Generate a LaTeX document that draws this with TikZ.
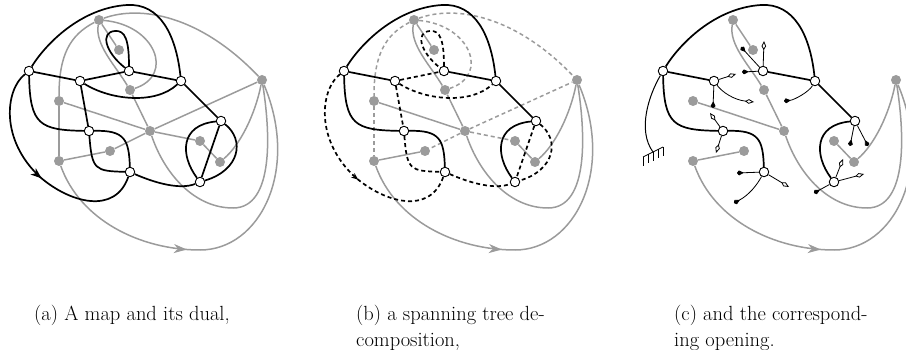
\documentclass[tikz,border=0pt]{standalone}
\usetikzlibrary{arrows.meta,decorations.markings}
\pgfdeclarelayer{background}
\pgfsetlayers{background,main}
\definecolor{dg}{RGB}{155,155,155}
\tikzset{
  pv/.style={circle,draw=black,fill=white,line width=0.9pt,minimum size=9.5pt,inner sep=0pt},
  dv/.style={circle,fill=dg,draw=none,minimum size=10pt,inner sep=0pt},
  pe/.style={line width=1.7pt,black},
  ge/.style={line width=1.5pt,dg},
  pdash/.style={pe,dash pattern=on 4pt off 3pt},
  gdash/.style={ge,dash pattern=on 4pt off 3pt},
  stub/.style={line width=0.8pt,black},
  bstub/.style={stub,-{Kite[length=7pt,width=5pt,inset=5pt,round]}},
  wstub/.style={stub,-{Kite[fill=white,length=9pt,width=4.6pt,inset=3.8pt]}},
  parrow/.style={postaction={decorate},decoration={markings,mark=at position 118pt with {\arrow{Stealth[length=11pt,width=8pt,inset=3pt]}}}},
  psarrow/.style={postaction={decorate},decoration={markings,mark=at position 120pt with {\arrow{Stealth[length=7pt,width=5.5pt,inset=2pt]}}}},
  garrow/.style={postaction={decorate},decoration={markings,mark=at position 160pt with {\arrow{Stealth[length=13pt,width=9pt,inset=4pt]}}}},
  capt/.style={font=\fontsize{20.5}{24}\selectfont,inner sep=0pt,anchor=base west},
}
\newcommand{\Verts}{%
  \node[pv] (A) at (29,71) {};
  \node[pv] (B) at (80,81) {};
  \node[pv] (C) at (129,71) {};
  \node[pv] (D) at (181,81) {};
  \node[pv] (E) at (221,121) {};
  \node[pv] (F) at (89,131) {};
  \node[pv] (G) at (130,172) {};
  \node[pv] (H) at (200,182) {};
  \node[dv] (d1) at (99,20) {};
  \node[dv] (d2) at (119,50) {};
  \node[dv] (d3) at (130,90) {};
  \node[dv] (d4) at (59,101) {};
  \node[dv] (d5) at (150,131) {};
  \node[dv] (d6) at (110,151) {};
  \node[dv] (d7) at (59,161) {};
  \node[dv] (d8) at (200,141) {};
  \node[dv] (d9) at (220,162) {};
  \node[dv] (d10) at (262,80) {};
}
% primal edges
\newcommand\EdAB[1]{\draw[#1] (A) -- (B);}
\newcommand\EdBC[1]{\draw[#1] (B) -- (C);}
\newcommand\EdCD[1]{\draw[#1] (C) -- (D);}
\newcommand\EdDE[1]{\draw[#1] (D) -- (E);}
\newcommand\EdBF[1]{\draw[#1] (B) -- (F);}
\newcommand\EdEHs[1]{\draw[#1] (E) -- (H);}
\newcommand\EdCC[1]{\draw[#1] (C) .. controls (129,40) and (125,30) .. (115,31) .. controls (100,32) and (105,52) .. (C);}
\newcommand\EdAD[1]{\draw[#1] (A) .. controls (45,45) and (80,8) .. (127,5) .. controls (160,3) and (176,35) .. (D);}
\newcommand\EdBD[1]{\draw[#1] (B) .. controls (110,100) and (155,105) .. (D);}
\newcommand\EdAF[1]{\draw[#1] (A) .. controls (30,125) and (40,130) .. (F);}
\newcommand\EdFGr[1]{\draw[#1] (F) .. controls (125,130) and (129,140) .. (G);}
\newcommand\EdFGl[1]{\draw[#1] (F) .. controls (92,170) and (95,171) .. (G);}
\newcommand\EdGH[1]{\draw[#1] (G) .. controls (155,183) and (180,190) .. (H);}
\newcommand\EdEHl[1]{\draw[#1] (E) .. controls (180,125) and (180,155) .. (H);}
\newcommand\EdEHr[1]{\draw[#1] (E) .. controls (245,140) and (240,170) .. (H);}
\newcommand\EdAG[1]{\draw[#1] (A) .. controls (5,90) and (0,140) .. (40,177) .. controls (70,203) and (115,215) .. (G);}
% dual edges
\newcommand\GuA[1]{\draw[#1] (d1) -- (d2);}
\newcommand\GuB[1]{\draw[#1] (d1) .. controls (140,5) and (200,15) .. (d10);}
\newcommand\GuC[1]{\draw[#1] (d1) .. controls (70,35) and (59,55) .. (d4);}
\newcommand\GuD[1]{\draw[#1] (d1) .. controls (95,45) and (115,65) .. (d3);}
\newcommand\GuE[1]{\draw[#1] (d1) .. controls (155,25) and (175,75) .. (d3);}
\newcommand\GuF[1]{\draw[#1] (d3) -- (d5);}
\newcommand\GuG[1]{\draw[#1] (d5) .. controls (165,175) and (195,208) .. (233,208) .. controls (275,208) and (270,130) .. (d10);}
\newcommand\GuH[1]{\draw[#1] (d4) -- (d5);}
\newcommand\GuI[1]{\draw[#1] (d4) -- (d7);}
\newcommand\GuJ[1]{\draw[#1] (d5) -- (d10);}
\newcommand\GuK[1]{\draw[#1] (d5) -- (d6);}
\newcommand\GuL[1]{\draw[#1] (d6) -- (d7);}
\newcommand\GuM[1]{\draw[#1] (d5) -- (d8);}
\newcommand\GuN[1]{\draw[#1] (d8) -- (d9);}
\newcommand\GuO[1]{\draw[#1] (d9) .. controls (240,145) and (255,115) .. (d10);}
\newcommand\GuP[1]{\draw[#1] (d7) .. controls (80,220) and (140,250) .. (200,250) .. controls (260,250) and (300,170) .. (d10);}

\begin{document}
\begin{tikzpicture}[x=1pt,y=-1pt]
\useasboundingbox (0,0) rectangle (906,350);
\clip (0,0) rectangle (906,350);

% ---------- panel (a)
\begin{scope}[name prefix=a-]
\Verts
\begin{pgfonlayer}{background}
  \GuA{ge}\GuB{ge}\GuC{ge}\GuD{ge}\GuE{ge}\GuF{ge}\GuG{ge}\GuH{ge}
  \GuI{ge}\GuJ{ge}\GuK{ge}\GuL{ge}\GuM{ge}\GuN{ge}\GuO{ge}\GuP{ge,garrow}
  \EdAB{pe}\EdBC{pe}\EdCD{pe}\EdDE{pe}\EdBF{pe}\EdEHs{pe}\EdCC{pe}\EdAD{pe}
  \EdBD{pe}\EdAF{pe}\EdFGr{pe}\EdFGl{pe}\EdGH{pe}\EdEHl{pe}\EdEHr{pe}\EdAG{pe,parrow}
\end{pgfonlayer}
\end{scope}

% ---------- panel (b)
\begin{scope}[xshift=315pt,name prefix=b-]
\Verts
\begin{pgfonlayer}{background}
  \GuA{ge}\GuD{ge}\GuF{ge}\GuG{ge}\GuH{ge}\GuL{ge}\GuN{ge}\GuO{ge}\GuP{ge,garrow}
  \GuB{gdash}\GuC{gdash}\GuE{gdash}\GuI{gdash}\GuJ{gdash}\GuK{gdash}\GuM{gdash}
  \EdAD{pe}\EdAB{pe}\EdCD{pe}\EdDE{pe}\EdAF{pe}\EdFGr{pe}\EdEHl{pe}
  \EdBC{pdash}\EdCC{pdash}\EdBD{pdash}\EdBF{pdash}\EdFGl{pdash}\EdGH{pdash}
  \EdEHs{pdash}\EdEHr{pdash}\EdAG{pdash,psarrow}
\end{pgfonlayer}
\end{scope}

% ---------- panel (c)
\begin{scope}[xshift=634pt,name prefix=c-]
\Verts
\coordinate (cs1) at (107,47); \coordinate (cs2) at (108,72); \coordinate (cs3) at (130,41);
\coordinate (bs1) at (102,74); \coordinate (bs2) at (79,108); \coordinate (bs3) at (120,102);
\coordinate (ds1) at (150,101);
\coordinate (fs1) at (76,113); \coordinate (fs2) at (82,153);
\coordinate (gs1) at (103,173); \coordinate (gs2) at (155,187); \coordinate (gs3) at (100,203);
\coordinate (es1) at (216,146); \coordinate (es2) at (234,146);
\coordinate (hs1) at (209,159); \coordinate (hs2) at (230,174); \coordinate (hs3) at (180,193);
\coordinate (gr) at (19,152);
\begin{pgfonlayer}{background}
  \GuA{ge}\GuD{ge}\GuF{ge}\GuG{ge}\GuH{ge}\GuL{ge}\GuN{ge}\GuO{ge}\GuP{ge,garrow}
  \EdAD{pe}\EdAB{pe}\EdCD{pe}\EdDE{pe}\EdAF{pe}\EdFGr{pe}\EdEHl{pe}
  \draw[bstub] (C) -- (cs1); \draw[bstub] (C) -- (cs2); \draw[wstub] (C) -- (cs3);
  \draw[wstub] (B) -- (bs1); \draw[bstub] (B) -- (bs2);
  \draw[wstub] (B) .. controls (88,92) and (100,100) .. (bs3);
  \draw[bstub] (D) .. controls (175,92) and (160,100) .. (ds1);
  \draw[wstub] (F) -- (fs1); \draw[wstub] (F) -- (fs2);
  \draw[bstub] (G) -- (gs1); \draw[wstub] (G) -- (gs2);
  \draw[bstub] (G) .. controls (123,185) and (115,195) .. (gs3);
  \draw[bstub] (E) -- (es1); \draw[bstub] (E) -- (es2);
  \draw[wstub] (H) -- (hs1); \draw[wstub] (H) -- (hs2); \draw[bstub] (H) -- (hs3);
  \draw[stub,line width=1pt] (A) .. controls (15,95) and (3,130) .. (gr);
  \draw[stub] (9,157) -- (29,147);
  \draw[stub] (9,157) -- (9,166) (14,154.5) -- (14,163.5) (19,152) -- (19,161)
              (24,149.5) -- (24,158.5) (29,147) -- (29,156);
\end{pgfonlayer}
\end{scope}

% ---------- captions
\node[capt] (capa) at (34,320) {(a) A map and its dual,};
\node[capt] (capb1) at (356,320) {(b) a spanning tree de-};
\node[capt] (capb2) at (356,346) {composition,};
\node[capt] (capc1) at (674,320) {(c) and the correspond-};
\node[capt] (capc2) at (674,346) {ing opening.};
\end{tikzpicture}
\end{document}
